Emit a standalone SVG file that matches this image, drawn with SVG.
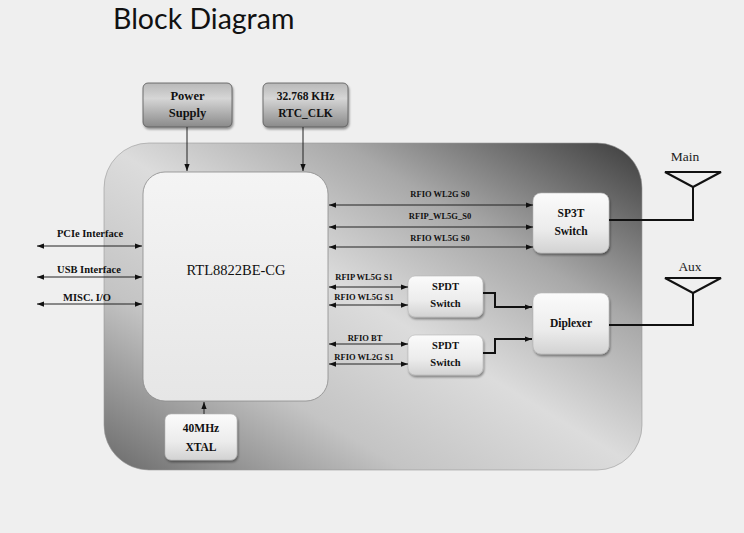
<svg xmlns="http://www.w3.org/2000/svg" width="744" height="533" viewBox="0 0 744 533">
<style>
.t{font-family:"Liberation Serif","Times New Roman",serif;font-weight:bold;fill:#111;text-anchor:middle}
.sm{font-size:8.5px}
.md{font-size:10.5px}
.lg{font-size:11.5px}
.reg{font-weight:normal}
.ln{stroke:#222;stroke-width:1;fill:none}
.thick{stroke:#111;stroke-width:2;fill:none}
.inner{fill:url(#gInner);stroke:#b5b5b5;stroke-width:0.6;filter:url(#sh)}
.top{fill:url(#gTop);stroke:#555;stroke-width:0.8;filter:url(#sh)}
</style>
<defs>
<linearGradient id="gBoard" x1="1" y1="0" x2="0" y2="1">
<stop offset="0" stop-color="#3c3c3c"/>
<stop offset="0.28" stop-color="#a8a8a8"/>
<stop offset="0.5" stop-color="#dcdcdc"/>
<stop offset="0.72" stop-color="#c4c4c4"/>
<stop offset="1" stop-color="#6a6a6a"/>
</linearGradient>
<linearGradient id="gInner" x1="0" y1="0" x2="0" y2="1">
<stop offset="0" stop-color="#fbfbfb"/>
<stop offset="0.6" stop-color="#ececec"/>
<stop offset="1" stop-color="#d2d2d2"/>
</linearGradient>
<linearGradient id="gChip" x1="0" y1="0" x2="0" y2="1">
<stop offset="0" stop-color="#f4f4f4"/>
<stop offset="1" stop-color="#e6e6e6"/>
</linearGradient>
<linearGradient id="gTop" x1="0" y1="0" x2="0" y2="1">
<stop offset="0" stop-color="#b8b8b8"/>
<stop offset="0.35" stop-color="#d6d6d6"/>
<stop offset="1" stop-color="#8a8a8a"/>
</linearGradient>
<filter id="sh" x="-20%" y="-20%" width="140%" height="150%">
<feDropShadow dx="1" dy="2" stdDeviation="1.2" flood-color="#000" flood-opacity="0.4"/>
</filter>
<marker id="ar" viewBox="0 0 8 6" refX="8" refY="3" markerWidth="7" markerHeight="5.5" markerUnits="userSpaceOnUse" orient="auto-start-reverse">
<path d="M0,0 L8,3 L0,6 z" fill="#111"/>
</marker>
</defs>
<rect x="0" y="0" width="744" height="533" fill="#efefef"/>
<text x="113" y="29" font-family="Lato,'Liberation Sans',sans-serif" font-size="28.5" fill="#111">Block Diagram</text>

<g id="board">
<rect x="104" y="143" width="538" height="327" rx="45" fill="url(#gBoard)" stroke="#999" stroke-width="0.6"/>
</g>

<g id="chip">
<rect x="143" y="172" width="185" height="229" rx="22" fill="url(#gChip)" stroke="#8a8a8a" stroke-width="0.8"/>
<text class="t reg" x="236" y="275" font-size="14.5">RTL8822BE-CG</text>
</g>

<g id="power">
<rect class="top" x="143" y="83" width="89" height="44" rx="5"/>
<text class="t" x="187.5" y="100" font-size="12.5">Power</text>
<text class="t" x="187.5" y="117" font-size="12.5">Supply</text>
</g>

<g id="rtc">
<rect class="top" x="263" y="83" width="85" height="44" rx="5"/>
<text class="t" x="305.5" y="100" font-size="11.5">32.768 KHz</text>
<text class="t" x="305.5" y="117" font-size="11.5">RTC_CLK</text>
</g>

<g id="xtal">
<rect class="inner" x="165" y="414" width="72" height="46" rx="6"/>
<text class="t lg" x="201" y="432">40MHz</text>
<text class="t lg" x="201" y="451">XTAL</text>
</g>

<g id="sp3t">
<rect class="inner" x="533" y="193" width="76" height="60" rx="8"/>
<text class="t lg" x="571" y="217">SP3T</text>
<text class="t lg" x="571" y="235">Switch</text>
</g>

<g id="spdt1">
<rect class="inner" x="408" y="276" width="75" height="41" rx="7"/>
<text class="t md" x="445.5" y="290">SPDT</text>
<text class="t md" x="445.5" y="307">Switch</text>
</g>

<g id="spdt2">
<rect class="inner" x="408" y="335" width="75" height="40" rx="7"/>
<text class="t md" x="445.5" y="349">SPDT</text>
<text class="t md" x="445.5" y="366">Switch</text>
</g>

<g id="diplexer">
<rect class="inner" x="533" y="293" width="76" height="61" rx="8"/>
<text class="t lg" x="571" y="327">Diplexer</text>
</g>

<g id="antenna-main">
<path class="thick" d="M665,172 L721,172 L693,187 Z"/>
<text x="685" y="161" font-family="'Liberation Serif',serif" font-size="13.5" fill="#222" text-anchor="middle">Main</text>
</g>

<g id="antenna-aux">
<path class="thick" d="M665,278 L721,278 L693,293 Z"/>
<text x="690" y="271" font-family="'Liberation Serif',serif" font-size="13.5" fill="#222" text-anchor="middle">Aux</text>
</g>

<g id="connectors">
<line class="ln" x1="187" y1="127" x2="187" y2="171" marker-end="url(#ar)"/>
<line class="ln" x1="303" y1="127" x2="303" y2="171" marker-end="url(#ar)"/>
<line class="ln" x1="204" y1="414" x2="204" y2="402" marker-end="url(#ar)"/>

<line class="ln" x1="37" y1="246" x2="142" y2="246" marker-start="url(#ar)" marker-end="url(#ar)"/>
<line class="ln" x1="37" y1="277" x2="142" y2="277" marker-start="url(#ar)" marker-end="url(#ar)"/>
<line class="ln" x1="37" y1="304" x2="142" y2="304" marker-start="url(#ar)" marker-end="url(#ar)"/>
<text class="t md" x="90" y="237">PCIe Interface</text>
<text class="t md" x="89" y="273">USB Interface</text>
<text class="t md" x="87" y="301">MISC. I/O</text>

<line class="ln" x1="329" y1="205" x2="533" y2="205" marker-start="url(#ar)" marker-end="url(#ar)"/>
<line class="ln" x1="329" y1="227" x2="533" y2="227" marker-start="url(#ar)" marker-end="url(#ar)"/>
<line class="ln" x1="329" y1="247" x2="533" y2="247" marker-start="url(#ar)" marker-end="url(#ar)"/>
<text class="t sm" x="440" y="197">RFIO WL2G S0</text>
<text class="t sm" x="440" y="219">RFIP_WL5G_S0</text>
<text class="t sm" x="440" y="241">RFIO WL5G S0</text>

<line class="ln" x1="329" y1="287" x2="408" y2="287" marker-start="url(#ar)" marker-end="url(#ar)"/>
<line class="ln" x1="329" y1="305" x2="408" y2="305" marker-start="url(#ar)" marker-end="url(#ar)"/>
<line class="ln" x1="329" y1="344" x2="408" y2="344" marker-start="url(#ar)" marker-end="url(#ar)"/>
<line class="ln" x1="329" y1="364" x2="408" y2="364" marker-start="url(#ar)" marker-end="url(#ar)"/>
<text class="t sm" x="364" y="280">RFIP WL5G S1</text>
<text class="t sm" x="364" y="300">RFIO WL5G S1</text>
<text class="t sm" x="365" y="341">RFIO BT</text>
<text class="t sm" x="364" y="360">RFIO WL2G S1</text>

<path class="thick" d="M483,293 H495 V307 H532" marker-end="url(#ar)"/>
<path class="thick" d="M483,353 H495 V339 H532" marker-end="url(#ar)"/>

<path class="thick" d="M609,220 H693 V187"/>
<path class="thick" d="M609,325 H693 V293"/>
</g>
</svg>
